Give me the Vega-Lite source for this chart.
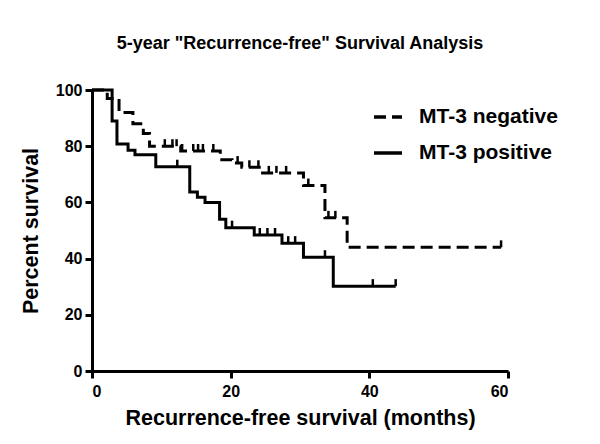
{
  "$schema": "https://vega.github.io/schema/vega-lite/v6.json",
  "width": 416,
  "height": 281,
  "autosize": {"type": "none"},
  "padding": {"left": 92, "top": 90, "right": 92, "bottom": 73},
  "background": "white",
  "title": {
    "text": "5-year \"Recurrence-free\" Survival Analysis",
    "font": "Liberation Sans",
    "fontSize": 18,
    "fontWeight": "bold",
    "color": "black",
    "anchor": "middle",
    "offset": 29
  },
  "config": {
    "view": {"stroke": null},
    "axis": {
      "grid": false,
      "domainColor": "black",
      "domainWidth": 3,
      "tickColor": "black",
      "tickWidth": 3,
      "tickSize": 7,
      "labelFont": "Liberation Sans",
      "labelFontWeight": "bold",
      "labelFontSize": 16,
      "labelColor": "black",
      "titleFont": "Liberation Sans",
      "titleFontWeight": "bold",
      "titleFontSize": 21.5,
      "titleColor": "black"
    },
    "legend": {
      "labelFont": "Liberation Sans",
      "labelFontWeight": "bold",
      "labelFontSize": 21,
      "labelColor": "black"
    }
  },
  "datasets": {
    "steps": [
      {"group": "MT-3 positive", "month": 0, "pct": 100},
      {"group": "MT-3 positive", "month": 2.9, "pct": 89},
      {"group": "MT-3 positive", "month": 3.6, "pct": 80.8},
      {"group": "MT-3 positive", "month": 5.2, "pct": 78.6},
      {"group": "MT-3 positive", "month": 6.2, "pct": 77},
      {"group": "MT-3 positive", "month": 9.2, "pct": 72.7},
      {"group": "MT-3 positive", "month": 14.1, "pct": 63.7},
      {"group": "MT-3 positive", "month": 15.2, "pct": 61.8},
      {"group": "MT-3 positive", "month": 16.3, "pct": 60},
      {"group": "MT-3 positive", "month": 18.4, "pct": 54},
      {"group": "MT-3 positive", "month": 19.3, "pct": 51},
      {"group": "MT-3 positive", "month": 23.4, "pct": 48.4},
      {"group": "MT-3 positive", "month": 27.4, "pct": 45.5},
      {"group": "MT-3 positive", "month": 30.5, "pct": 40.5},
      {"group": "MT-3 positive", "month": 34.8, "pct": 30.2},
      {"group": "MT-3 positive", "month": 43.8, "pct": 30.2},
      {"group": "MT-3 negative", "month": 0, "pct": 100},
      {"group": "MT-3 negative", "month": 2.2, "pct": 97},
      {"group": "MT-3 negative", "month": 3.9, "pct": 92},
      {"group": "MT-3 negative", "month": 5.9, "pct": 88},
      {"group": "MT-3 negative", "month": 7.4, "pct": 84.5},
      {"group": "MT-3 negative", "month": 8.3, "pct": 80},
      {"group": "MT-3 negative", "month": 12.8, "pct": 78.3},
      {"group": "MT-3 negative", "month": 18.5, "pct": 75.2},
      {"group": "MT-3 negative", "month": 20.2, "pct": 74},
      {"group": "MT-3 negative", "month": 21.6, "pct": 72.5},
      {"group": "MT-3 negative", "month": 24.6, "pct": 70.5},
      {"group": "MT-3 negative", "month": 30.5, "pct": 66},
      {"group": "MT-3 negative", "month": 33.6, "pct": 54.5},
      {"group": "MT-3 negative", "month": 36.8, "pct": 44},
      {"group": "MT-3 negative", "month": 59, "pct": 44}
    ],
    "censors": [
      {"group": "MT-3 positive", "month": 12.3, "pct": 72.7},
      {"group": "MT-3 positive", "month": 20.2, "pct": 51},
      {"group": "MT-3 positive", "month": 24.2, "pct": 48.4},
      {"group": "MT-3 positive", "month": 25.3, "pct": 48.4},
      {"group": "MT-3 positive", "month": 26.4, "pct": 48.4},
      {"group": "MT-3 positive", "month": 28.3, "pct": 45.5},
      {"group": "MT-3 positive", "month": 29.3, "pct": 45.5},
      {"group": "MT-3 positive", "month": 33.6, "pct": 40.5},
      {"group": "MT-3 positive", "month": 40.5, "pct": 30.2},
      {"group": "MT-3 positive", "month": 43.8, "pct": 30.2},
      {"group": "MT-3 negative", "month": 10.5, "pct": 80},
      {"group": "MT-3 negative", "month": 11.6, "pct": 80},
      {"group": "MT-3 negative", "month": 12.2, "pct": 80},
      {"group": "MT-3 negative", "month": 13.0, "pct": 78.3},
      {"group": "MT-3 negative", "month": 14.6, "pct": 78.3},
      {"group": "MT-3 negative", "month": 15.3, "pct": 78.3},
      {"group": "MT-3 negative", "month": 16.0, "pct": 78.3},
      {"group": "MT-3 negative", "month": 17.5, "pct": 78.3},
      {"group": "MT-3 negative", "month": 21.0, "pct": 74},
      {"group": "MT-3 negative", "month": 22.7, "pct": 72.5},
      {"group": "MT-3 negative", "month": 24.0, "pct": 72.5},
      {"group": "MT-3 negative", "month": 25.5, "pct": 70.5},
      {"group": "MT-3 negative", "month": 26.6, "pct": 70.5},
      {"group": "MT-3 negative", "month": 28.0, "pct": 70.5},
      {"group": "MT-3 negative", "month": 31.2, "pct": 66},
      {"group": "MT-3 negative", "month": 34.1, "pct": 54.5},
      {"group": "MT-3 negative", "month": 35.1, "pct": 54.5},
      {"group": "MT-3 negative", "month": 59, "pct": 44}
    ]
  },
  "layer": [
    {
      "data": {"name": "steps"},
      "mark": {"type": "line", "interpolate": "step-after", "strokeWidth": 3, "color": "black", "clip": false},
      "encoding": {
        "x": {
          "field": "month", "type": "quantitative",
          "scale": {"domain": [0, 60], "nice": false, "zero": true},
          "axis": {"values": [0, 20, 40, 60], "title": "Recurrence-free survival (months)", "labelPadding": 5, "titlePadding": 8}
        },
        "y": {
          "field": "pct", "type": "quantitative",
          "scale": {"domain": [0, 100], "nice": false},
          "axis": {"values": [0, 20, 40, 60, 80, 100], "title": "Percent survival", "labelPadding": 3, "titlePadding": 13}
        },
        "detail": {"field": "group"},
        "strokeDash": {
          "field": "group", "type": "nominal",
          "scale": {"domain": ["MT-3 negative", "MT-3 positive"], "range": [[12, 6], [1, 0]]},
          "legend": {
            "title": null,
            "orient": "none",
            "legendX": 280,
            "legendY": 11,
            "symbolType": "stroke",
            "symbolSize": 784,
            "symbolStrokeWidth": 3.5,
            "symbolStrokeColor": "black",
            "labelOffset": 15,
            "rowPadding": 10,
            "padding": 0
          }
        }
      }
    },
    {
      "data": {"name": "censors"},
      "mark": {"type": "tick", "orient": "vertical", "size": 7, "thickness": 2.5, "color": "black", "yOffset": -3.5, "opacity": 1},
      "encoding": {
        "x": {"field": "month", "type": "quantitative"},
        "y": {"field": "pct", "type": "quantitative"}
      }
    }
  ]
}
